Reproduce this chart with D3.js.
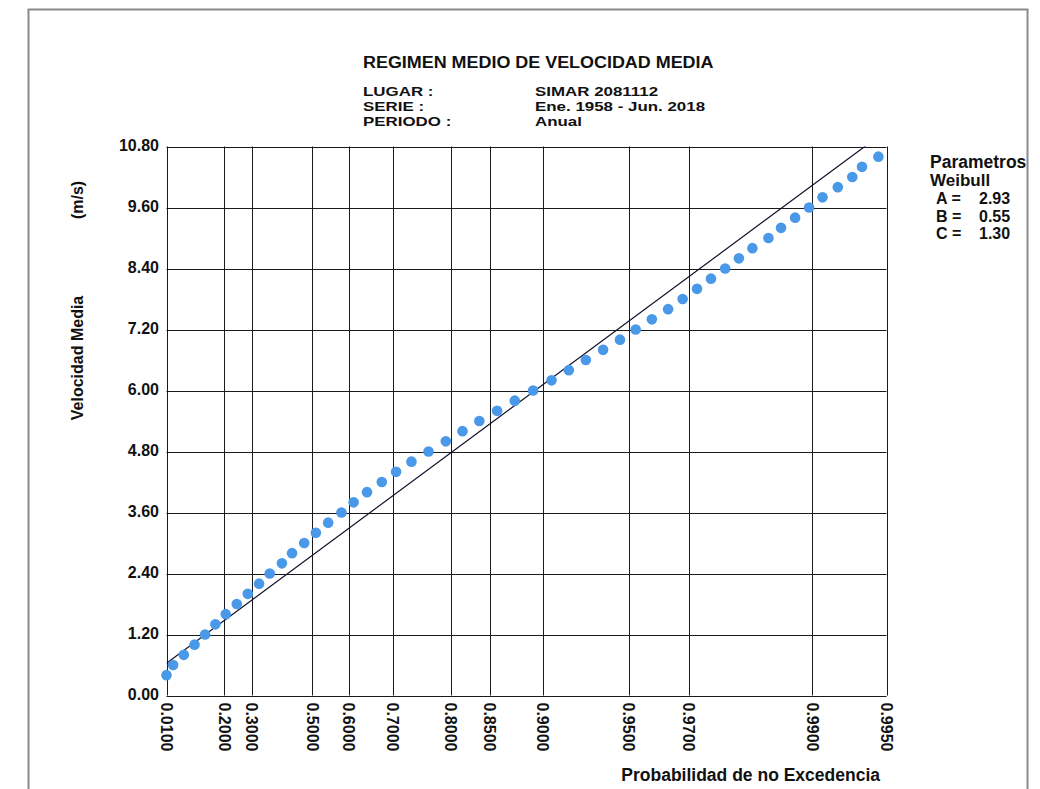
<!DOCTYPE html>
<html>
<head>
<meta charset="utf-8">
<script src="https://cdn.jsdelivr.net/npm/d3@7"></script>
<style>
  body { margin: 0; background: #fff; }
  text { font-family: "Liberation Sans", Arial, sans-serif; font-weight: bold; fill: #111; }
</style>
</head>
<body>
<svg id="chart" width="1040" height="789"></svg>
<script>
// velocidades media (m/s) de los puntos
const velocidad = [0.4, 0.6, 0.8, 1.0, 1.2, 1.4, 1.6, 1.8, 2.0, 2.2, 2.4, 2.6, 2.8, 3.0, 3.2, 3.4,
  3.6, 3.8, 4.0, 4.2, 4.4, 4.6, 4.8, 5.0, 5.2, 5.4, 5.6, 5.8, 6.0, 6.2, 6.4, 6.6, 6.8, 7.0,
  7.2, 7.4, 7.6, 7.8, 8.0, 8.2, 8.4, 8.6, 8.8, 9.0, 9.2, 9.4, 9.6, 9.8, 10.0, 10.2, 10.4, 10.6];
// probabilidad de no excedencia de cada punto
const probabilidad = [0.0100, 0.0265, 0.0583, 0.0939, 0.1310, 0.1680, 0.2060, 0.2460, 0.2860,
  0.3260, 0.3630, 0.4040, 0.4370, 0.4750, 0.5100, 0.5450, 0.5810, 0.6120, 0.6440, 0.6770,
  0.7065, 0.7358, 0.7654, 0.7925, 0.8161, 0.8375, 0.8577, 0.8756, 0.8920, 0.9065, 0.9185,
  0.9289, 0.9382, 0.9462, 0.9528, 0.9588, 0.9641, 0.9683, 0.9720, 0.9752, 0.9781, 0.9806,
  0.9828, 0.9851, 0.9867, 0.9883, 0.9897, 0.9909, 0.9921, 0.9931, 0.9937, 0.9946];

const xTicks = [0.01, 0.2, 0.3, 0.5, 0.6, 0.7, 0.8, 0.85, 0.9, 0.95, 0.97, 0.99, 0.995];
const yTicks = [0, 1.2, 2.4, 3.6, 4.8, 6.0, 7.2, 8.4, 9.6, 10.8];

// parametros weibull
const A = 2.93, B = 0.55, C = 1.30;

const svg = d3.select("#chart");

// ensancha un texto en horizontal
function stretch(sel, f) {
  sel.each(function () {
    const w = this.getComputedTextLength();
    d3.select(this).attr("textLength", w * f).attr("lengthAdjust", "spacingAndGlyphs");
  });
}

// marco exterior
svg.append("rect")
  .attr("x", 28.5).attr("y", 9.5)
  .attr("width", 999).attr("height", 800)
  .attr("fill", "none").attr("stroke", "#8a8a8a").attr("stroke-width", 2);

const pLeft = 166.5, pRight = 886.5, pTop = 146.5, pBottom = 695.5;

// papel weibull: eje x lineal en (-ln(1-p))^(1/C)
const u = p => Math.pow(-Math.log(1 - p), 1 / C);
const xs = d3.scaleLinear().domain([u(0.01), u(0.995)]).range([pLeft, pRight]);
const x = p => xs(u(p));
const y = d3.scaleLinear().domain([0, 10.8]).range([pBottom, pTop]);

// rejilla
svg.append("g").selectAll("line").data(yTicks).join("line")
  .attr("x1", pLeft).attr("x2", pRight)
  .attr("y1", d => Math.round(y(d)) + 0.5).attr("y2", d => Math.round(y(d)) + 0.5)
  .attr("stroke", "#1a1a1a").attr("stroke-width", 1);

svg.append("g").selectAll("line").data(xTicks).join("line")
  .attr("x1", d => Math.round(x(d)) + 0.5).attr("x2", d => Math.round(x(d)) + 0.5)
  .attr("y1", pTop).attr("y2", pBottom)
  .attr("stroke", "#1a1a1a").attr("stroke-width", 1);

// etiquetas eje y
svg.append("g").selectAll("text").data(yTicks).join("text")
  .attr("x", 159)
  .attr("y", d => y(d))
  .attr("dy", "0.3em")
  .attr("text-anchor", "end")
  .style("font-size", "16px")
  .text(d => d.toFixed(2));

// etiquetas eje x (giradas)
svg.append("g").selectAll("text").data(xTicks).join("text")
  .attr("transform", d => `translate(${x(d)},${pBottom + 7}) rotate(90)`)
  .attr("dy", "0.35em")
  .style("font-size", "16px")
  .text(d => d.toFixed(4));

// recta de ajuste
svg.append("clipPath").attr("id", "clip")
  .append("rect").attr("x", pLeft).attr("y", pTop).attr("width", pRight - pLeft).attr("height", pBottom - pTop);

const fit = [0.01, 0.995].map(p => [x(p), y(B + A * u(p))]);
svg.append("path")
  .attr("clip-path", "url(#clip)")
  .attr("d", d3.line()(fit))
  .attr("stroke", "#10102a").attr("stroke-width", 1.2).attr("fill", "none");

// puntos
svg.append("g").selectAll("circle").data(velocidad).join("circle")
  .attr("cx", (d, i) => x(probabilidad[i]))
  .attr("cy", d => y(d))
  .attr("r", 5.3)
  .attr("fill", "#4a98e8");

// titulos
svg.append("text").attr("x", 363).attr("y", 68).style("font-size", "16px")
  .text("REGIMEN MEDIO DE VELOCIDAD MEDIA")
  .call(stretch, 1.12);

const info = [["LUGAR :", "SIMAR 2081112"], ["SERIE :", "Ene. 1958 - Jun. 2018"], ["PERIODO :", "Anual"]];
info.forEach((r, i) => {
  svg.append("text").attr("x", 363).attr("y", 96 + i * 15).style("font-size", "13px").text(r[0])
    .call(stretch, 1.3);
  svg.append("text").attr("x", 535).attr("y", 96 + i * 15).style("font-size", "13px").text(r[1])
    .call(stretch, 1.3);
});

// ejes
svg.append("text").attr("transform", "translate(83,358) rotate(-90)")
  .attr("text-anchor", "middle").style("font-size", "16px").text("Velocidad Media");
svg.append("text").attr("transform", "translate(83,200) rotate(-90)")
  .attr("text-anchor", "middle").style("font-size", "16px").text("(m/s)");
svg.append("text").attr("x", 880).attr("y", 781).attr("text-anchor", "end")
  .style("font-size", "17.5px").text("Probabilidad de no Excedencia");

// parametros
const params = [["A =", A], ["B =", B], ["C =", C]];
svg.append("text").attr("x", 930).attr("y", 168).style("font-size", "17.5px").text("Parametros");
svg.append("text").attr("x", 930).attr("y", 186).style("font-size", "17px").text("Weibull");
params.forEach((r, i) => {
  svg.append("text").attr("x", 936).attr("y", 204 + i * 17.5).style("font-size", "16px").text(r[0]);
  svg.append("text").attr("x", 979).attr("y", 204 + i * 17.5).style("font-size", "16px").text(r[1].toFixed(2));
});
</script>
</body>
</html>
